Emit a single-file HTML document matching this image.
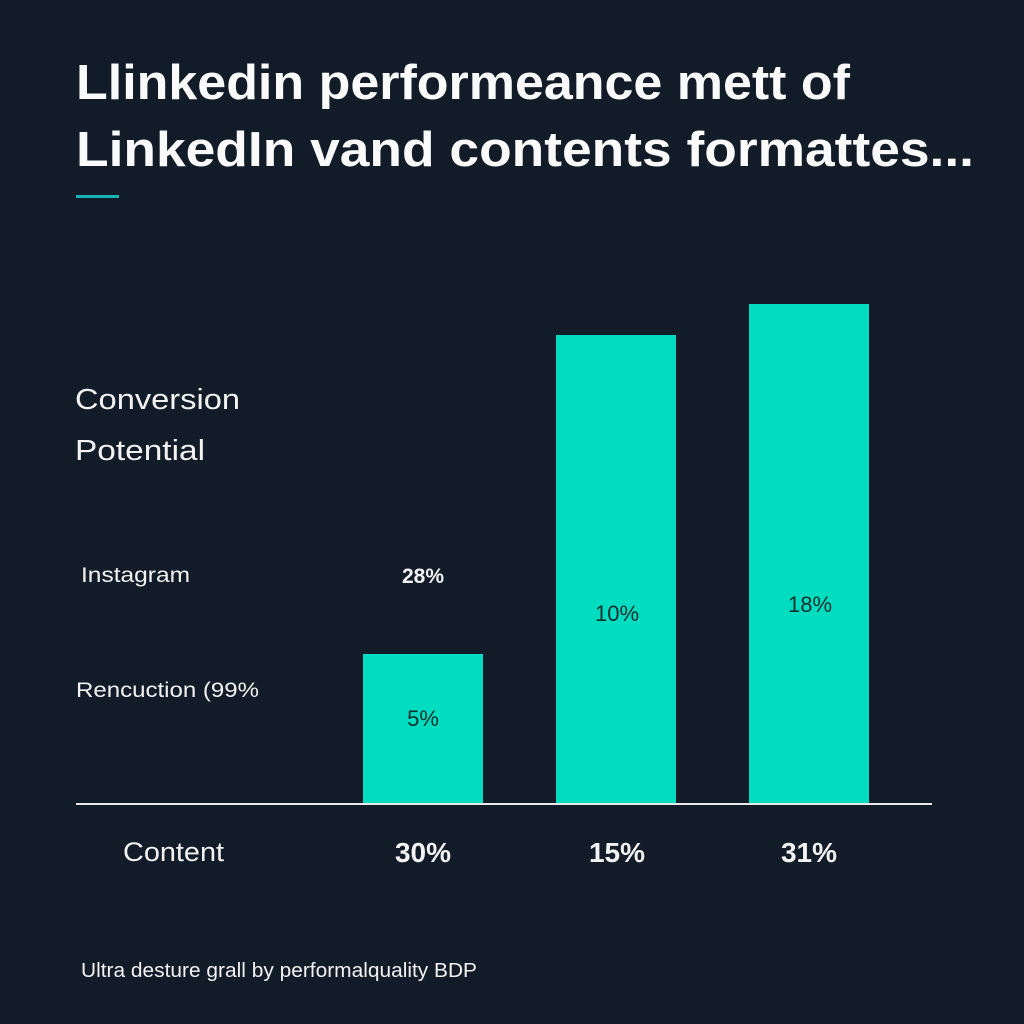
<!DOCTYPE html>
<html><head><meta charset="utf-8"><style>
html,body{margin:0;padding:0;background:#121c28;}
svg{display:block;}
text{font-family:"Liberation Sans",sans-serif;}
</style></head><body>
<svg width="1024" height="1024" viewBox="0 0 1024 1024">
<rect width="1024" height="1024" fill="#121c28"/>
<text x="76" y="99" font-size="49" font-weight="bold" fill="#fafafa" textLength="774" lengthAdjust="spacingAndGlyphs">Llinkedin performeance mett of</text>
<text x="76" y="166" font-size="49" font-weight="bold" fill="#fafafa" textLength="898" lengthAdjust="spacingAndGlyphs">LinkedIn vand contents formattes...</text>
<rect x="76" y="195" width="43" height="3" fill="#17b5b5"/>
<text x="75" y="409" font-size="29" fill="#f2f2f2" textLength="165" lengthAdjust="spacingAndGlyphs">Conversion</text>
<text x="75" y="460" font-size="29" fill="#f2f2f2" textLength="130" lengthAdjust="spacingAndGlyphs">Potential</text>
<text x="81" y="582" font-size="21" fill="#f2f2f2" textLength="109" lengthAdjust="spacingAndGlyphs">Instagram</text>
<text x="76" y="697" font-size="21" fill="#f2f2f2" textLength="183" lengthAdjust="spacingAndGlyphs">Rencuction (99%</text>
<text x="423" y="583" font-size="21" font-weight="bold" fill="#f2f2f2" text-anchor="middle">28%</text>
<rect x="363" y="654" width="120" height="150" fill="#02dcc0"/>
<rect x="556" y="335" width="120" height="469" fill="#02dcc0"/>
<rect x="749" y="304" width="120" height="500" fill="#02dcc0"/>
<text x="423" y="726" font-size="22" fill="#10302c" text-anchor="middle">5%</text>
<text x="617" y="621" font-size="22" fill="#10302c" text-anchor="middle">10%</text>
<text x="810" y="612" font-size="22" fill="#10302c" text-anchor="middle">18%</text>
<rect x="76" y="803" width="856" height="2" fill="#e8e8e8"/>
<text x="123" y="861" font-size="27" fill="#f2f2f2" textLength="101" lengthAdjust="spacingAndGlyphs">Content</text>
<text x="423" y="862" font-size="28" font-weight="bold" fill="#f2f2f2" text-anchor="middle">30%</text>
<text x="617" y="862" font-size="28" font-weight="bold" fill="#f2f2f2" text-anchor="middle">15%</text>
<text x="809" y="862" font-size="28" font-weight="bold" fill="#f2f2f2" text-anchor="middle">31%</text>
<text x="81" y="977" font-size="20" fill="#f2f2f2" textLength="396" lengthAdjust="spacingAndGlyphs">Ultra desture grall by performalquality BDP</text>
</svg>
</body></html>
